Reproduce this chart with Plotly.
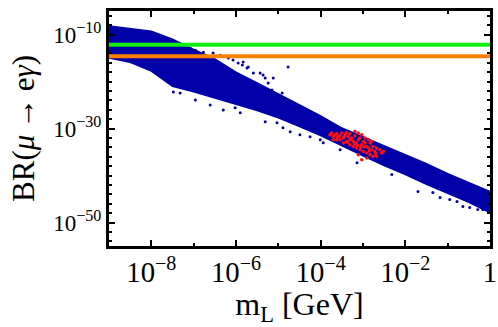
import numpy as np
import plotly.graph_objects as go

# band of scan points (log10 values)
band_logm = [-9.0, -8.5, -8.0, -7.5, -7.0, -6.5, -6.0, -5.5, -5.0, -4.5,
             -4.0, -3.5, -3.0, -2.5, -2.0, -1.5, -1.0, -0.5, 0.0]
band_upper = [-8.2, -8.7, -9.3, -11.0, -13.2, -15.2, -18.0, -20.3, -22.6, -25.0,
              -27.3, -29.9, -31.8, -33.7, -35.6, -37.5, -39.6, -41.5, -43.4]
band_lower = [-15.0, -15.9, -17.8, -21.0, -22.2, -23.5, -24.8, -26.2, -27.7, -29.6,
              -31.5, -33.7, -35.8, -37.9, -39.8, -41.9, -43.8, -45.7, -47.9]

# stray blue points outside the dense band (log10 m, log10 BR)
stray_logm = [-7.08, -6.96, -6.77, -6.54, -6.37, -6.18, -6.07, -5.95, -5.83, -5.71,
              -5.85, -5.74, -5.59, -5.43, -5.36, -5.31, -5.24, -5.15, -5.12, -4.91,
              -4.77,
              -7.48, -7.32, -6.96, -6.61, -6.30, -6.02, -5.90, -5.31, -5.03, -4.89,
              -4.72, -4.49, -4.25, -4.01, -3.94, -3.54, -3.14, -2.91, -2.32, -1.70,
              -1.35, -1.18, -0.95, -0.78, -0.64, -0.48, -0.29, -0.17]
stray_logbr = [-12.90, -13.33, -13.75, -13.96, -14.39, -15.02, -15.44, -16.08, -15.87, -16.91,
               -16.50, -17.14, -18.20, -18.20, -18.62, -19.26, -20.32, -21.80, -19.26, -22.44,
               -16.93,
               -22.23, -22.44, -23.92, -24.98, -26.04, -25.61, -26.67, -28.58, -28.79, -29.85,
               -30.70, -31.33, -31.76, -32.39, -33.03, -34.51, -37.27, -36.00, -39.81, -43.41,
               -43.62, -44.68, -45.11, -45.53, -46.59, -46.80, -47.22, -47.22]

# red points
red_logm = [-3.78, -3.74, -3.70, -3.66, -3.62, -3.58, -3.54, -3.50, -3.46, -3.42,
            -3.39, -3.35, -3.31, -3.31, -3.27, -3.23, -3.19, -3.15, -3.11, -3.07,
            -3.03, -2.99, -2.95, -2.91, -2.87, -2.83, -2.80, -2.76, -2.72, -2.68,
            -2.60, -2.56, -2.52, -3.23, -3.15, -3.07, -2.99, -2.91, -2.83, -2.76,
            -3.11, -2.91, -2.68, -3.03, -3.46, -3.39, -3.54, -3.62, -3.70, -3.31,
            -3.19, -3.11, -3.03, -2.95, -2.87, -2.80,
            -3.60, -3.44, -3.28, -3.13, -2.97, -2.85, -2.70, -3.36, -3.20, -3.05]
red_logbr = [-31.34, -30.98, -31.69, -31.34, -31.12, -31.69, -31.55, -30.98, -32.04, -31.34,
             -30.84, -31.69, -31.12, -32.40, -32.04, -32.75, -31.55, -33.10, -32.40, -32.04,
             -33.46, -32.75, -33.10, -33.81, -34.16, -33.10, -34.51, -33.81, -34.87, -34.16,
             -34.51, -35.22, -34.87, -33.81, -34.16, -34.51, -34.87, -35.22, -35.57, -35.93,
             -35.57, -36.28, -35.93, -36.63, -33.10, -32.75, -32.40, -32.40, -32.40, -33.46,
             -30.63, -30.98, -31.34, -32.04, -32.40, -32.75,
             -31.90, -31.70, -32.30, -33.60, -33.90, -34.80, -35.30, -32.90, -33.30, -34.00]

# experimental bounds
bound_green = 7.0e-13
bound_orange = 2.5e-15

blue = "#0000A8"
font = "Liberation Serif"

fig = go.Figure()

poly_x = 10 ** np.array(band_logm + band_logm[::-1])
poly_y = 10 ** np.array(band_upper + band_lower[::-1])
fig.add_trace(go.Scatter(x=poly_x, y=poly_y, mode="lines", fill="toself",
                         fillcolor=blue, line=dict(color=blue, width=1.5),
                         hoverinfo="skip"))
fig.add_trace(go.Scatter(x=10 ** np.array(stray_logm), y=10 ** np.array(stray_logbr),
                         mode="markers", marker=dict(color=blue, size=3)))
fig.add_trace(go.Scatter(x=10 ** np.array(red_logm), y=10 ** np.array(red_logbr),
                         mode="markers", marker=dict(color="#FF1010", size=3.5)))

fig.add_hline(y=bound_green, line=dict(color="#10F010", width=4))
fig.add_hline(y=bound_orange, line=dict(color="#FF8000", width=4))

axis_common = dict(showline=True, linecolor="black", linewidth=3, mirror="allticks",
                   ticks="inside", tickcolor="black", tickwidth=2, showgrid=False,
                   zeroline=False, automargin=False,
                   tickfont=dict(family=font, size=23, color="black"))

fig.update_xaxes(type="log", range=[-9, 0], tick0=0, dtick=2, ticklen=6,
                 exponentformat="power",
                 minor=dict(tick0=0, dtick=1, ticklen=3, tickcolor="black",
                            tickwidth=2, ticks="inside", showgrid=False),
                 title=dict(text="m<sub>L</sub> [GeV]", standoff=12,
                            font=dict(family=font, size=32, color="black")),
                 **axis_common)
fig.update_yaxes(type="log", range=[-55, -5],
                 tickvals=[1e-50, 1e-30, 1e-10],
                 ticktext=["10<sup>\u221250</sup>", "10<sup>\u221230</sup>", "10<sup>\u221210</sup>"],
                 ticklen=6,
                 minor=dict(tick0=0, dtick=2, ticklen=3, tickcolor="black",
                            tickwidth=2, ticks="inside", showgrid=False),
                 title=dict(text="BR(<i>\u03bc</i>\u2009\u2192\u2009e<i>\u03b3</i>)", standoff=10,
                            font=dict(family=font, size=31, color="black")),
                 **axis_common)

fig.update_layout(width=498, height=327, showlegend=False,
                  plot_bgcolor="white", paper_bgcolor="white",
                  margin=dict(l=109, r=8, t=11, b=81))

# page body has a default margin; drop it so the figure sits at the corner
fig.write_html("out.html", config={"displayModeBar": False},
               post_script="document.body.style.margin='0';")
